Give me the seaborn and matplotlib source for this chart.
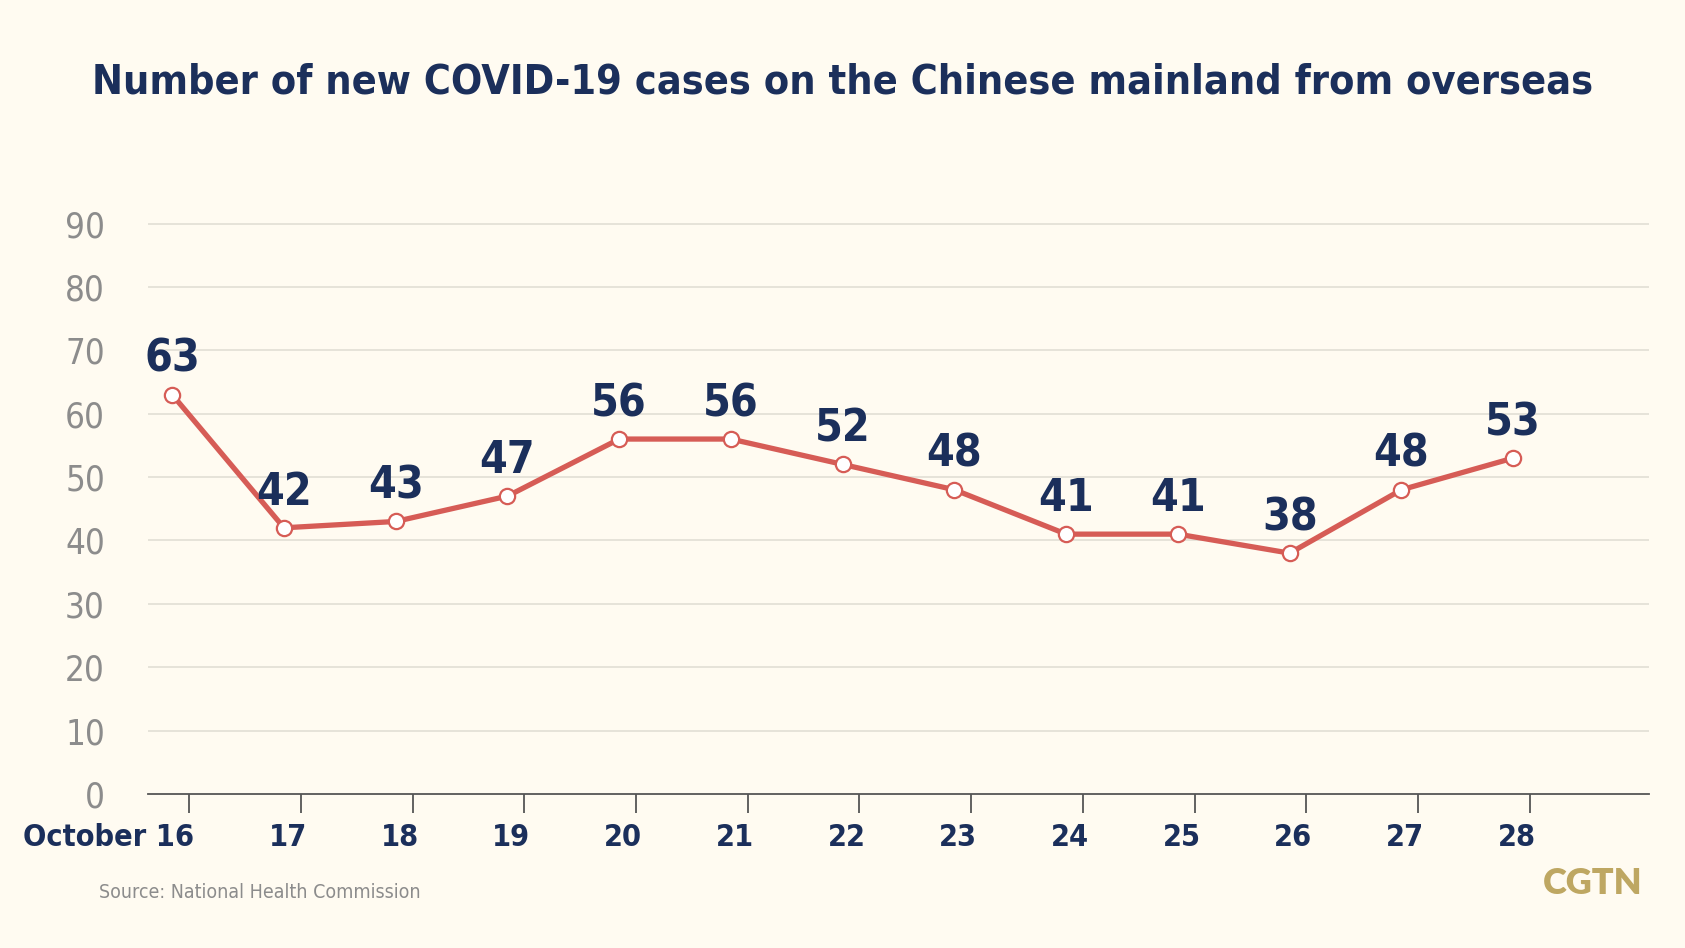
import numpy as np
import pandas as pd
import matplotlib
matplotlib.use("Agg")
import matplotlib.pyplot as plt
import matplotlib.transforms as mtransforms
import seaborn as sns

# ---- data ----
dates = ["October 16", "17", "18", "19", "20", "21", "22", "23", "24", "25", "26", "27", "28"]
cases = [63, 42, 43, 47, 56, 56, 52, 48, 41, 41, 38, 48, 53]
yticks = [0, 10, 20, 30, 40, 50, 60, 70, 80, 90]

title = "Number of new COVID-19 cases on the Chinese mainland from overseas"
source = "Source: National Health Commission"
brand = "CGTN"

BG = "#fffbf1"
NAVY = "#1b2f5b"
RED = "#d65c56"
GRAY = "#8c8c8c"
GRID = "#e6e3d9"
GOLD = "#bea762"

sns.set_theme(style="white")
plt.rcParams["font.family"] = ["DejaVu Sans"]

df = pd.DataFrame({"pos": np.arange(len(cases)), "cases": cases, "date": dates})

fig = plt.figure(figsize=(16.85, 9.48), dpi=100, facecolor=BG)
ax = fig.add_axes([148/1685, 0.1624, 1501/1685, 0.6085])
ax.set_facecolor(BG)

sns.lineplot(data=df, x="pos", y="cases", ax=ax, color=RED, linewidth=3.8,
             marker="o", markersize=11, markerfacecolor="white",
             markeredgecolor=RED, markeredgewidth=1.6, zorder=5)

for p, v in zip(df["pos"], df["cases"]):
    ax.annotate(str(v), (p, v), xytext=(0, 10), textcoords="offset points",
                ha="center", va="bottom", fontsize=32, fontweight="bold",
                color=NAVY, fontstretch="condensed", zorder=6)

ax.set_ylim(0, 91)
ax.set_xlim(-0.217, 13.215)
ax.set_yticks(yticks)
ax.set_yticklabels([str(t) for t in yticks])
for t in yticks[1:]:
    ax.axhline(t, color=GRID, linewidth=1.4, zorder=1)

tickpos = df["pos"] + 0.15
ax.set_xticks(tickpos)
ax.set_xticklabels(dates)
ax.tick_params(axis="x", bottom=True, length=14, width=1.3, color="#555555",
               direction="out", pad=7, labelsize=22, labelcolor=NAVY)
ax.tick_params(axis="y", left=False, length=0, pad=31, labelsize=25, labelcolor=GRAY)
for lab in ax.get_yticklabels():
    lab.set_fontstretch("condensed")
for lab in ax.get_xticklabels():
    lab.set_fontweight("bold")
    lab.set_fontstretch("condensed")
labs = ax.get_xticklabels()
labs[0].set_horizontalalignment("right")
labs[0].set_transform(labs[0].get_transform() + mtransforms.ScaledTranslation(5/100, 0, fig.dpi_scale_trans))
for lab in labs[1:]:
    lab.set_transform(lab.get_transform() + mtransforms.ScaledTranslation(-13/100, 0, fig.dpi_scale_trans))

for s in ["top", "right", "left"]:
    ax.spines[s].set_visible(False)
ax.spines["bottom"].set_color("#555555")
ax.spines["bottom"].set_linewidth(1.3)
ax.set_xlabel("")
ax.set_ylabel("")

fig.text(0.5, 1 - 82/948, title, ha="center", va="center", fontsize=29.6,
         fontweight="bold", color=NAVY, fontstretch="condensed")
fig.text(99/1685, 1 - 892/948, source, ha="left", va="center", fontsize=14,
         color=GRAY, fontstretch="condensed")
fig.text(1642/1685, 1 - 883/948, brand, ha="right", va="center", fontsize=26,
         fontweight="heavy", color=GOLD, family=["Lato", "DejaVu Sans"])

fig.savefig("out.png", dpi=100, facecolor=BG)
